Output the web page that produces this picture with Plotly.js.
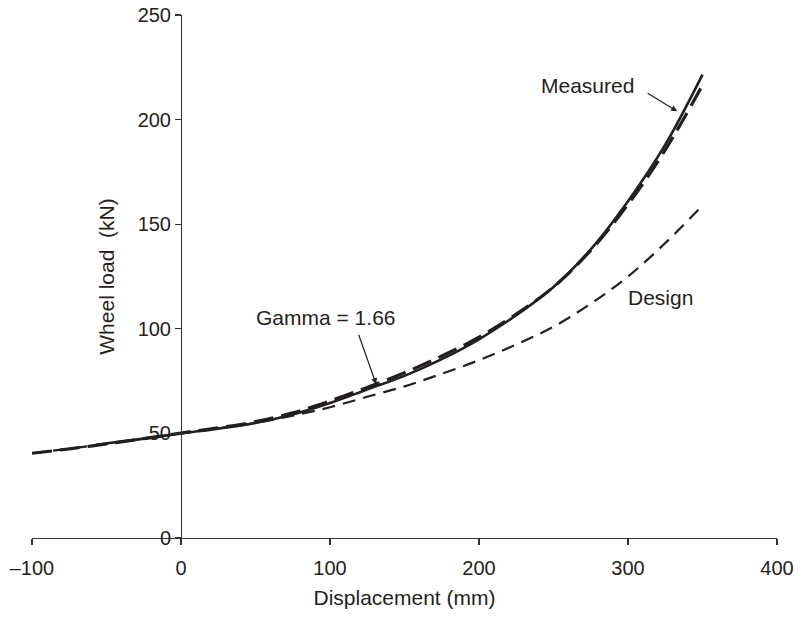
<!DOCTYPE html>
<html>
<head>
<meta charset="utf-8">
<script src="https://cdn.plot.ly/plotly-3.0.1.min.js"></script>
<style>html,body{margin:0;padding:0;background:#fff;}#chart{width:795px;height:617px;}</style>
</head>
<body>
<div id="chart"></div>
<script>
// Displacement (mm) and wheel load (kN)
const measuredX = [-57, -25, 0, 25, 50, 75, 100, 125, 150, 175, 200, 225, 250, 275, 300, 325, 350];
const measuredY = [44.6, 47.5, 50, 52.3, 55, 59, 64.5, 71, 77.5, 85.5, 95, 106.5, 120, 138, 161, 188, 221.5];

const gammaX = [-100, -75, -50, -25, 0, 25, 50, 75, 100, 125, 150, 175, 200, 225, 250, 275, 300, 325, 350];
const gammaY = [40.5, 42.6, 45, 47.5, 50.2, 52.7, 55.6, 59.8, 65.5, 72, 79, 87, 96, 107, 120, 137.5, 159.5, 185.5, 216.5];

const designX = [-100, -50, 0, 25, 50, 75, 100, 125, 150, 175, 200, 225, 250, 275, 300, 325, 350];
const designY = [40.5, 45, 50, 52.4, 55, 58.5, 62.5, 67.5, 72.5, 78.5, 85, 92.5, 101, 112, 125, 141, 159];

const xTicks = [-100, 0, 100, 200, 300, 400];
const yTicks = [0, 50, 100, 150, 200, 250];

const ink = '#231f20';
const family = '"Liberation Sans", Arial, Helvetica, sans-serif';
const textFont = {family: family, size: 21, color: ink};
const tickFont = {family: family, size: 20, color: ink};

const traces = [
  {x: designX, y: designY, mode: 'lines', line: {color: ink, width: 2.2, dash: '13px,8px', shape: 'spline'}, name: 'Design'},
  {x: gammaX, y: gammaY, mode: 'lines', line: {color: ink, width: 3.2, dash: '20px,8px', shape: 'spline'}, name: 'Gamma = 1.66'},
  {x: measuredX, y: measuredY, mode: 'lines', line: {color: ink, width: 2.6, shape: 'spline'}, name: 'Measured'}
];

const layout = {
  width: 795, height: 617,
  margin: {l: 32, r: 18, t: 15, b: 79},
  paper_bgcolor: '#fff', plot_bgcolor: '#fff',
  showlegend: false,
  font: textFont,
  xaxis: {
    range: [-100, 400], tickvals: xTicks, ticktext: xTicks.map(v => v < 0 ? '\u2013' + Math.abs(v) : String(v)),
    showgrid: false, zeroline: false, showline: true, linecolor: '#333', linewidth: 1.3,
    ticks: 'outside', ticklen: 6, tickwidth: 1.3, tickcolor: '#333',
    ticklabelstandoff: 6,
    tickfont: tickFont,
    title: {text: 'Displacement (mm)', font: textFont, standoff: 12}
  },
  yaxis: {
    range: [0, 250], tickvals: yTicks,
    anchor: 'free', position: 0.2,
    showgrid: false, zeroline: false, showline: true, linecolor: '#333', linewidth: 1.3,
    ticks: 'outside', ticklen: 6, tickwidth: 1.3, tickcolor: '#333',
    tickfont: tickFont,
    title: {text: 'Wheel load\u00a0 (kN)', font: textFont, standoff: 16}
  },
  annotations: [
    {x: 273, y: 216.5, xref: 'x', yref: 'y', text: 'Measured', showarrow: false, font: textFont},
    {x: 333, y: 204, xref: 'x', yref: 'y', text: '', showarrow: true, ax: -31, ay: -19,
     arrowhead: 2, arrowsize: 1, arrowwidth: 1.2, arrowcolor: ink},
    {x: 97, y: 105.3, xref: 'x', yref: 'y', text: 'Gamma = 1.66', showarrow: false, font: textFont},
    {x: 131, y: 73.5, xref: 'x', yref: 'y', text: '', showarrow: true, ax: -18, ay: -51,
     arrowhead: 2, arrowsize: 1, arrowwidth: 1.2, arrowcolor: ink},
    {x: 321.5, y: 114.8, xref: 'x', yref: 'y', text: 'Design', showarrow: false, font: textFont}
  ]
};

Plotly.newPlot('chart', traces, layout, {staticPlot: true, displayModeBar: false});
</script>
</body>
</html>
